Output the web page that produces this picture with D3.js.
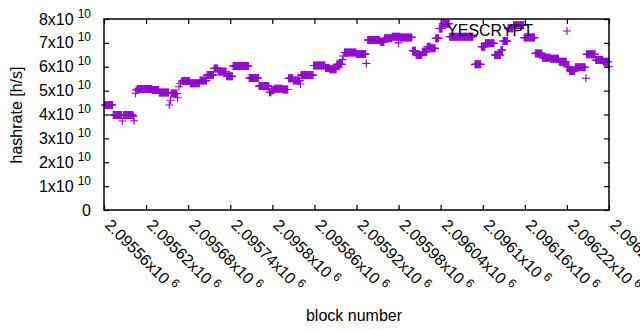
<!DOCTYPE html>
<html><head><meta charset="utf-8">
<script src="https://cdn.jsdelivr.net/npm/d3@7"></script>
<style>
body{margin:0;background:#fff}
svg{display:block}
text{font-family:"Liberation Sans",Arial,sans-serif;fill:#000}
</style>
</head><body><div id="chart"></div>
<script>
// ---- data ----
const blockBase = 2095560;               // first block of the x range
const seriesName = "YESCRYPT";
// runs of blocks sharing the same estimated hashrate (offsets from blockBase)
const segStart = [1,13,28,48,69,79,96,111,123,137,147,157,163,175,184,207,221,236,239,243,255,263,270,281,299,316,322,332,343,360,376,394,400,411,423,440,445,454,461,466,473,478,483,493,529,538,544,557,566,569,576,584,599,615,625,637,649,660,664,672,688,701,712];
const segEnd   = [12,25,41,68,78,92,104,122,136,146,156,162,174,183,206,220,235,238,242,254,262,269,279,298,315,321,331,339,359,373,393,399,410,422,439,444,453,460,465,472,477,482,492,526,537,543,556,565,568,575,583,598,614,624,636,648,659,663,671,686,700,711,719];
const segValue = [4.40,3.98,3.98,5.07,5.03,4.92,4.88,5.40,5.31,5.42,5.65,5.93,5.80,5.60,6.03,5.53,5.19,4.93,5.02,5.08,5.05,5.52,5.42,5.65,6.05,5.95,5.90,6.10,6.60,6.53,7.12,7.04,7.19,7.26,7.23,6.67,6.49,6.63,6.84,6.77,7.19,7.60,7.80,7.26,6.10,6.84,6.98,6.49,6.70,7.08,7.61,7.74,7.22,6.56,6.38,6.34,6.21,6.00,5.82,5.98,6.52,6.28,6.21]; // x1e10
// single blocks off the runs
const extraBlock = [26,42,43,45,46,93,95,105,107,109,280,340,341,374,420,687,720];
const extraValue = [3.73,3.93,3.74,4.89,5.03,4.40,4.60,4.70,5.16,5.31,5.28,6.30,6.45,6.14,7.00,5.52,6.00]; // x1e10
const xTickValues = [2095560,2095620,2095680,2095740,2095800,2095860,2095920,2095980,2096040,2096100,2096160,2096220,2096280];
const yTickValues = [0,1e10,2e10,3e10,4e10,5e10,6e10,7e10,8e10];

// ---- build points ----
const points = [];
segStart.forEach((s,i)=>{
  for(let b=s;b<=segEnd[i];b++) points.push({block:blockBase+b, value:segValue[i]*1e10});
});
extraBlock.forEach((b,i)=>points.push({block:blockBase+b, value:extraValue[i]*1e10}));

// ---- layout ----
const W=640,H=330;
const L=104,R=609,T=19,B=210;
const color="#9400d3";
const svg=d3.select("#chart").append("svg").attr("width",W).attr("height",H);
const x=d3.scaleLinear().domain([2095560,2096280]).range([L,R]);
const y=d3.scaleLinear().domain([0,8e10]).range([B,T]);
const fs=16;

// points
const plus="M-4,0H4M0,-4V4";
svg.append("g").selectAll("path").data(points).join("path")
  .attr("d",plus).attr("transform",d=>`translate(${x(d.block)},${y(d.value)})`)
  .attr("stroke",color).attr("stroke-width",1.1).attr("fill","none");

// axes (inward ticks, mirrored)
const tl=5;
const axL=d3.axisRight(y).tickValues(yTickValues).tickSize(tl).tickFormat("");
const axR=d3.axisLeft(y).tickValues(yTickValues).tickSize(tl).tickFormat("");
const axB=d3.axisTop(x).tickValues(xTickValues).tickSize(tl).tickFormat("");
const axT=d3.axisBottom(x).tickValues(xTickValues).tickSize(tl).tickFormat("");
[[axL,`translate(${L},0)`],[axR,`translate(${R},0)`],[axB,`translate(0,${B})`],[axT,`translate(0,${T})`]].forEach(([a,t])=>{
  const g=svg.append("g").attr("transform",t).call(a);
  g.select(".domain").remove();
  g.selectAll("line").attr("stroke","#000").attr("stroke-width",1.2);
});
svg.append("rect").attr("x",L).attr("y",T).attr("width",R-L).attr("height",B-T)
  .attr("fill","none").attr("stroke","#000").attr("stroke-width",1.5);

// y tick labels
yTickValues.forEach(v=>{
  const t=svg.append("text").attr("x",91).attr("y",y(v)+5.5).attr("text-anchor","end").attr("font-size",fs);
  if(v===0){t.text("0");}
  else{
    t.append("tspan").text(`${v/1e10}x10`);
    t.append("tspan").attr("dx",4).attr("dy",-7).attr("font-size",12).text("10");
  }
});

// x tick labels (rotated)
xTickValues.forEach(v=>{
  const m=+(v/1e6).toFixed(5);
  const t=svg.append("text").attr("transform",`translate(${x(v)},226) rotate(45)`).attr("font-size",fs);
  t.append("tspan").text(`${m}x10`);
  t.append("tspan").attr("dx",4).attr("dy",-6).attr("font-size",12).text("6");
});

// axis titles
svg.append("text").attr("transform","translate(22,115) rotate(-90)").attr("text-anchor","middle").attr("font-size",fs).text("hashrate [h/s]");
svg.append("text").attr("x",354).attr("y",321).attr("text-anchor","middle").attr("font-size",fs).text("block number");

// key
svg.append("text").attr("x",533).attr("y",36).attr("text-anchor","end").attr("font-size",fs).text(seriesName);
svg.append("path").attr("d",plus).attr("transform","translate(567,31)").attr("stroke",color).attr("stroke-width",1.1).attr("fill","none");
</script>
</body></html>
